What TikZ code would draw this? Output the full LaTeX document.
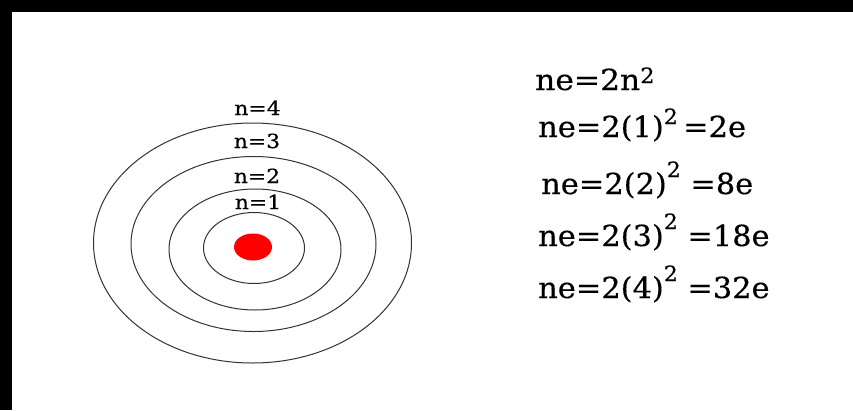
\documentclass[tikz,border=0pt]{standalone}
\usepackage{fontspec}
\setmainfont{DejaVu Serif}[FakeBold=0.35]
\newcommand\eqsup[2]{\raisebox{#1}{\fontsize{21}{21}\selectfont #2}}
\begin{document}
\begin{tikzpicture}[x=1pt,y=-1pt,
  orbit/.style={draw=black!80, line width=1pt},
  lbl/.style={inner sep=0pt, anchor=base, font=\fontsize{19.5}{19.5}\selectfont},
  eq/.style={inner sep=0pt, anchor=base west, font=\fontsize{29}{29}\selectfont}]
\useasboundingbox (0,0) rectangle (853,410);
\fill[white] (0,0) rectangle (853,410);
\fill[black] (0,0) rectangle (853,12);
\fill[black] (0,0) rectangle (12,410);
% orbits
\draw[orbit] (254,248) ellipse [x radius=50.5, y radius=35.5];
\draw[orbit] (255,249.5) ellipse [x radius=86, y radius=60.5];
\draw[orbit] (253.5,244) ellipse [x radius=122.5, y radius=87.5];
\draw[orbit] (252.5,243) ellipse [x radius=159, y radius=120];
% nucleus
\fill[red] (253,247) ellipse [x radius=19, y radius=13.5];
% orbit labels
\node[lbl] (n4) at (257.5,115) {\scalebox{1.12}[1]{n=4}};
\node[lbl] (n3) at (257,148) {\scalebox{1.12}[1]{n=3}};
\node[lbl] (n2) at (257,183) {\scalebox{1.12}[1]{n=2}};
\node[lbl] (n1) at (258,209) {\scalebox{1.12}[1]{n=1}};
% equations
\node[eq] (e1) at (535,90) {\scalebox{1.08}[1]{ne=2n\eqsup{7pt}{2}}};
\node[eq] (e2) at (538,137) {\scalebox{1.05}[1]{ne=2(1)\eqsup{13pt}{2}\hspace{5pt}=2e}};
\node[eq] (e3) at (541,194) {\scalebox{1.05}[1]{ne=2(2)\eqsup{17pt}{2}\hspace{9pt}=8e}};
\node[eq] (e4) at (538,246) {\scalebox{1.05}[1]{ne=2(3)\eqsup{17pt}{2}\hspace{9pt}=18e}};
\node[eq] (e5) at (538,298) {\scalebox{1.05}[1]{ne=2(4)\eqsup{17pt}{2}\hspace{9pt}=32e}};
\end{tikzpicture}
\end{document}
